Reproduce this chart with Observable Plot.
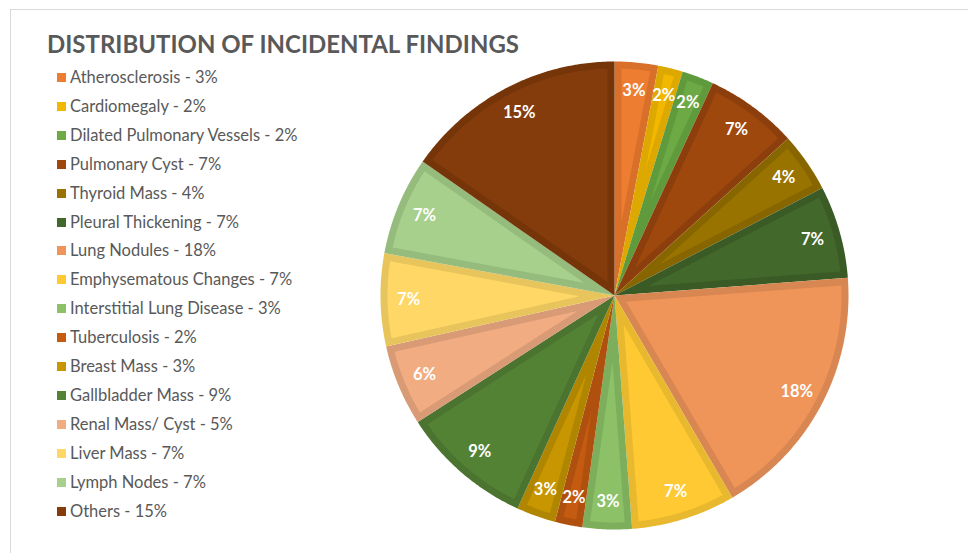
<!DOCTYPE html>
<html>
<head>
<meta charset="utf-8">
<script src="https://cdn.jsdelivr.net/npm/d3@7"></script>
<script src="https://cdn.jsdelivr.net/npm/@observablehq/plot@0.6"></script>
<style>
  html, body { margin: 0; padding: 0; background: #fff; }
  #wrap { position: relative; width: 968px; height: 553px; overflow: hidden; font-family: Lato, "Open Sans", sans-serif; }
  #frame { position: absolute; left: 10px; top: 9px; width: 1000px; height: 600px; border-left: 1px solid #d9d9d9; border-top: 1px solid #d9d9d9; }
  #title { position: absolute; left: 47px; top: 29px; font-size: 24px; font-weight: 700; color: #595959; white-space: nowrap; transform-origin: 0 0; }
  #legend { position: absolute; left: 57px; top: 67px; }
  .item { position: absolute; left: 0; height: 20px; white-space: nowrap; font-size: 16.5px; color: #595959; }
  .sw { position: absolute; left: 0; top: 6px; width: 9px; height: 9px; }
  .lab { position: absolute; left: 13px; top: 0; line-height: 20px; transform-origin: 0 50%; }
  #chart { position: absolute; left: 0; top: 0; }
</style>
</head>
<body>
<div id="wrap">
  <div id="frame"></div>
  <div id="chart"></div>
  <div id="title">DISTRIBUTION OF INCIDENTAL FINDINGS</div>
  <div id="legend"></div>
</div>
<script>
const categories = ["Atherosclerosis", "Cardiomegaly", "Dilated Pulmonary Vessels", "Pulmonary Cyst", "Thyroid Mass", "Pleural Thickening", "Lung Nodules", "Emphysematous Changes", "Interstitial Lung Disease", "Tuberculosis", "Breast Mass", "Gallbladder Mass", "Renal Mass/ Cyst", "Liver Mass", "Lymph Nodes", "Others"];
const values = [3.0, 1.7, 2.2, 6.4, 4.1, 6.4, 17.8, 7.2, 3.4, 1.9, 2.7, 9.1, 5.6, 6.4, 6.8, 15.3];
const legendPct = ["3%", "2%", "2%", "7%", "4%", "7%", "18%", "7%", "3%", "2%", "3%", "9%", "5%", "7%", "7%", "15%"];
const sliceLabels = ["3%", "2%", "2%", "7%", "4%", "7%", "18%", "7%", "3%", "2%", "3%", "9%", "6%", "7%", "7%", "15%"];
const fills = ["#ED7D31", "#F2B800", "#6DAA45", "#9E480E", "#997300", "#43682B", "#F0955A", "#FFC933", "#8CC168", "#C55A11", "#C79600", "#548235", "#F2AC82", "#FFD766", "#A6D08C", "#843C0C"];
const borders = ["#D9702A", "#DDA800", "#5F9A3C", "#8C3F0C", "#876600", "#3A5B25", "#D98752", "#E8B82E", "#7DAE5C", "#B0500F", "#B08500", "#4A742F", "#D99A76", "#E8C55C", "#95BC7D", "#753509"];

const W = 968, H = 553;
const cx = 614, cy = 295, R = 234, inset = 7, labelR = 0.88 * R;

const arcs = d3.pie().sort(null).value(d => d)(values);

function pt(a, r) { return [r * Math.sin(a), r * Math.cos(a)]; }

function wedge(a0, a1, r, d) {
  const pts = [];
  if (d === 0) {
    pts.push([0, 0]);
    const n = Math.max(2, Math.ceil((a1 - a0) / 0.01));
    for (let i = 0; i <= n; i++) pts.push(pt(a0 + (a1 - a0) * i / n, r));
  } else {
    const half = (a1 - a0) / 2, mid = (a0 + a1) / 2;
    pts.push(pt(mid, d / Math.sin(half)));
    const rr = r - d, da = Math.asin(d / rr);
    const b0 = a0 + da, b1 = a1 - da;
    const n = Math.max(2, Math.ceil((b1 - b0) / 0.01));
    for (let i = 0; i <= n; i++) pts.push(pt(b0 + (b1 - b0) * i / n, rr));
  }
  return pts;
}

const outer = [], inner = [], labels = [];
arcs.forEach((a, i) => {
  wedge(a.startAngle, a.endAngle, R, 0).forEach(([x, y]) => outer.push({key: i, x, y, c: borders[i]}));
  wedge(a.startAngle, a.endAngle, R, inset).forEach(([x, y]) => inner.push({key: i, x, y, c: fills[i]}));
  const [lx, ly] = pt((a.startAngle + a.endAngle) / 2, labelR);
  labels.push({x: lx, y: ly, t: sliceLabels[i]});
});

const plot = Plot.plot({
  width: W, height: H, margin: 0,
  x: {domain: [-cx, W - cx], axis: null},
  y: {domain: [-(H - cy), cy], axis: null},
  color: {type: "identity"},
  marks: [
    Plot.line(outer, {x: "x", y: "y", z: "key", fill: "c", stroke: "none", curve: "linear-closed"}),
    Plot.line(inner, {x: "x", y: "y", z: "key", fill: "c", stroke: "none", curve: "linear-closed"}),
    Plot.text(labels, {x: "x", y: "y", text: "t", fill: "white", fontSize: 16.5, fontWeight: 700, fontFamily: "Lato, sans-serif"})
  ]
});
plot.style.background = "transparent";
document.getElementById("chart").appendChild(plot);

const legend = document.getElementById("legend");
const step = 28.9;
categories.forEach((c, i) => {
  const it = document.createElement("div");
  it.className = "item";
  it.style.top = (i * step) + "px";
  it.innerHTML = `<div class="sw" style="background:${fills[i]}"></div><div class="lab">${c} - ${legendPct[i]}</div>`;
  legend.appendChild(it);
});

// fit title width
const t = document.getElementById("title");
const tw = t.getBoundingClientRect().width;
t.style.transform = `scaleX(${472 / tw})`;
</script>
</body>
</html>
